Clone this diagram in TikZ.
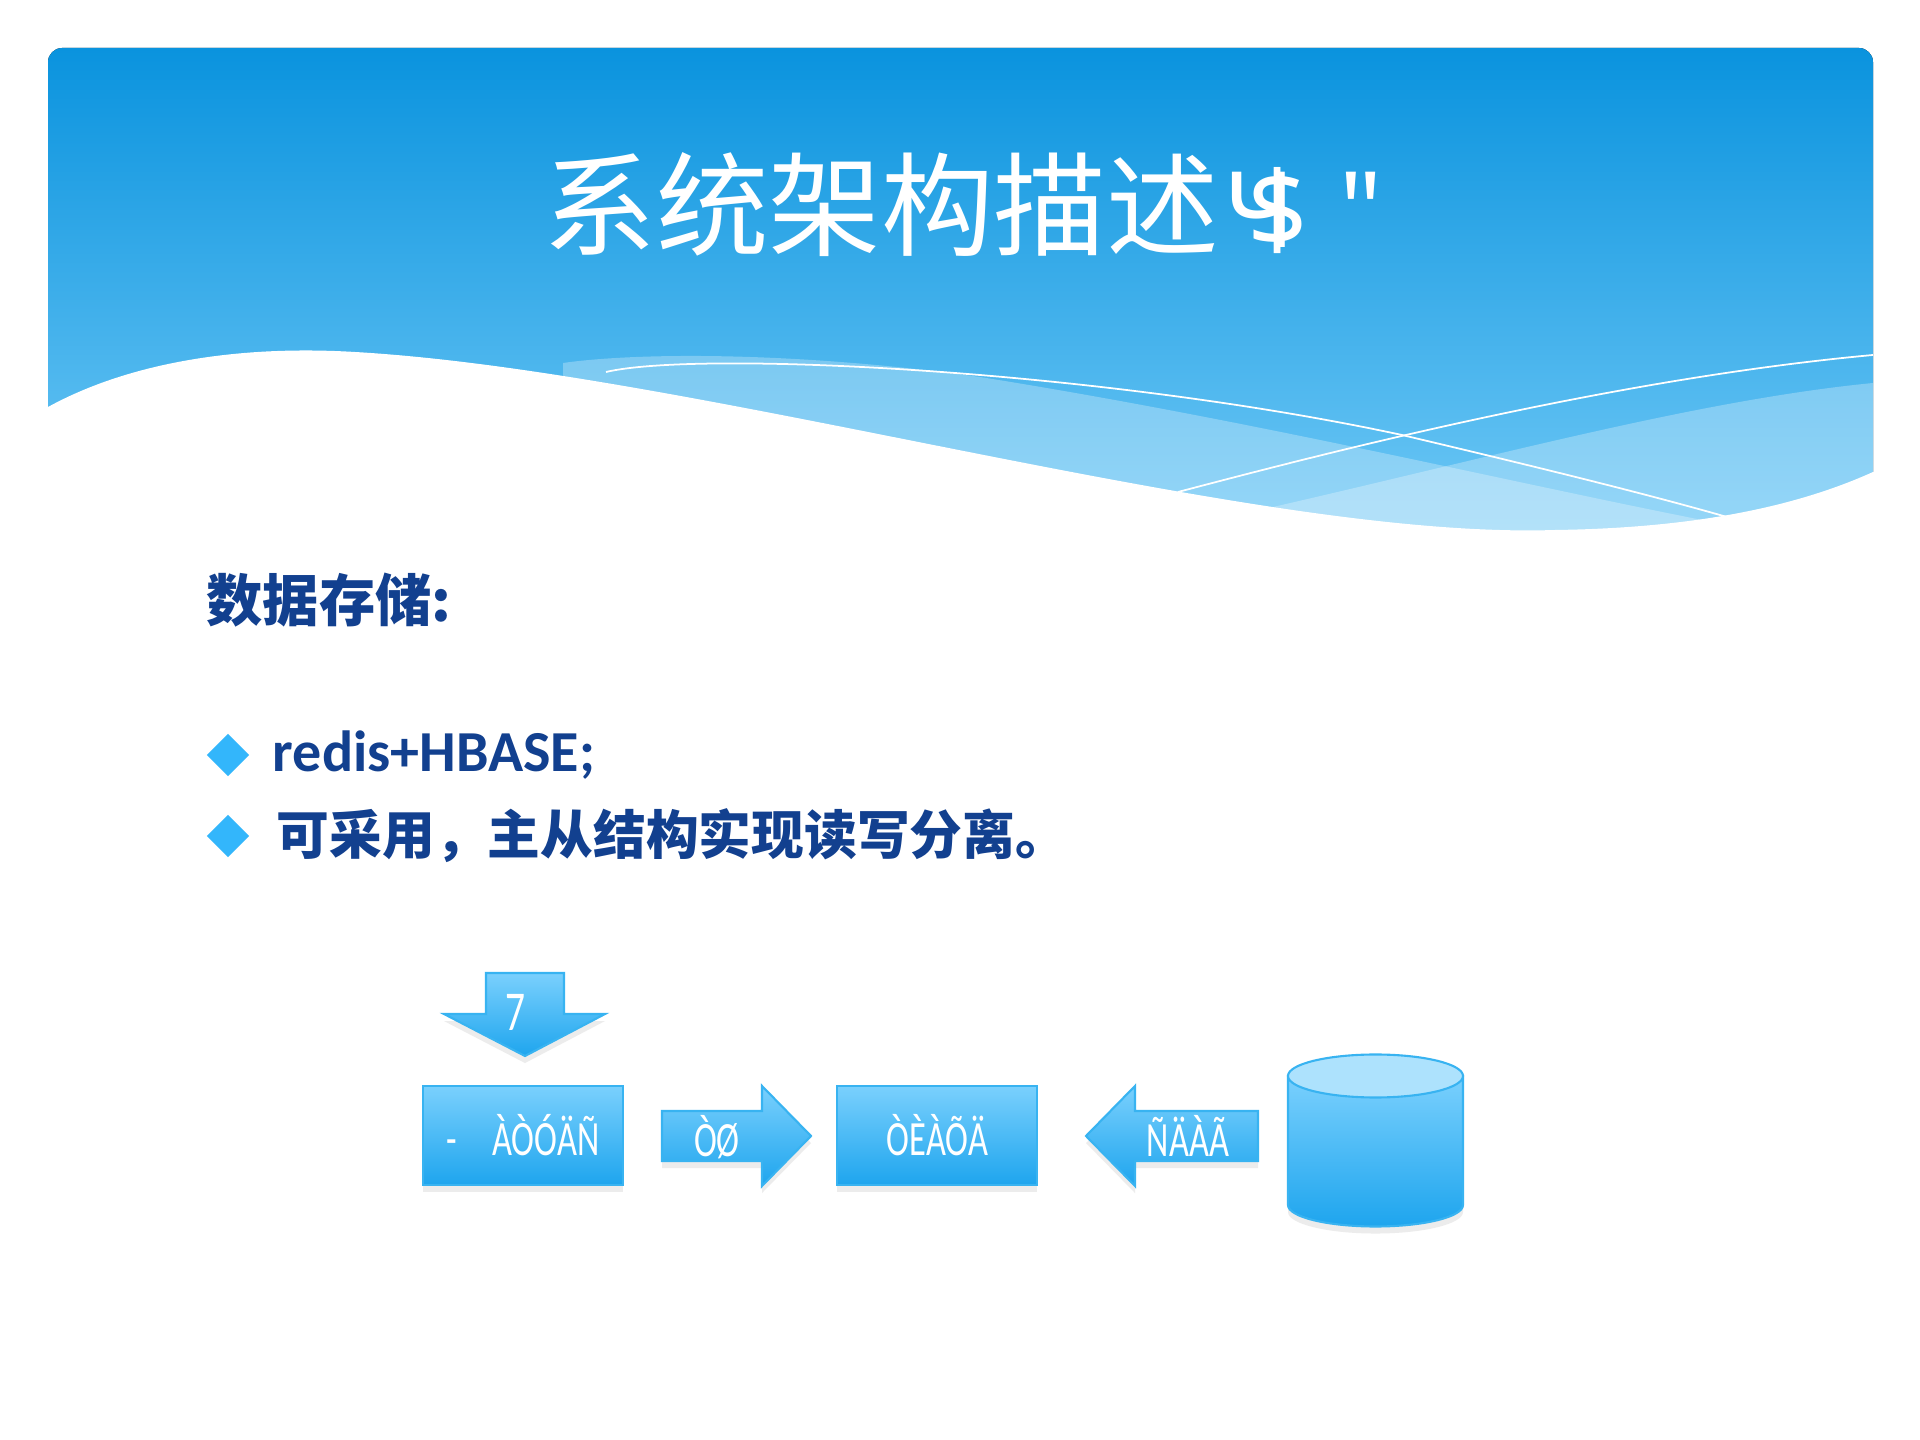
\documentclass[tikz,border=0pt]{standalone}
\usepackage{fontspec}
\usepackage{xcolor}
\usepackage{tikz}
\usetikzlibrary{positioning,shadows,shapes.geometric}

\newfontfamily\cjk{Noto Sans CJK SC}
\newfontfamily\latin{Carlito}
\newfontfamily\boxfont[FakeStretch=0.7]{Carlito}
\newfontfamily\notosans{Noto Sans}

\definecolor{hdtop}{HTML}{0A93DE}
\definecolor{hdbot}{HTML}{74CBF7}
\definecolor{navy}{HTML}{12408F}
\definecolor{bullet}{HTML}{33B6FB}
\definecolor{boxtop}{HTML}{7AD0FD}
\definecolor{boxbot}{HTML}{1EA5EE}
\definecolor{boxedge}{HTML}{38B3F1}
\definecolor{dbtop}{HTML}{ADE2FD}

\tikzset{
  boxshade/.style = {draw=boxedge, line width=0.6pt, top color=boxtop, bottom color=boxbot,
    drop shadow={opacity=0.15, shadow xshift=0pt, shadow yshift=-2pt}},
  flowbox/.style = {boxshade, minimum width=2cm, minimum height=0.99cm, inner sep=0pt,
    text=white, font=\boxfont\fontsize{14}{16}\selectfont},
  arrowlabel/.style = {inner sep=0pt, text=white, font=\boxfont\fontsize{14}{16}\selectfont},
  bulletmark/.style = {diamond, fill=bullet, minimum size=0.43cm, inner sep=0pt, aspect=1},
  bodytext/.style = {anchor=west, inner sep=0pt, text=navy},
}

\begin{document}
\begin{tikzpicture}[x=0.01cm, y=-0.01cm]
    \useasboundingbox (0,0) rectangle (1920,1440);
    \fill[white] (0,0) rectangle (1920,1440);
    % testata con onda
    \fill[top color=hdtop, bottom color=hdbot, rounded corners=4pt] (48,48) rectangle (1873,560);
    \fill[white, opacity=0.28] (563,363) .. controls (640,352) and (800,352) .. (980,377)
      .. controls (1250,420) and (1500,480) .. (1702,520) -- (1702,560) -- (563,560) -- cycle;
    \fill[white, opacity=0.28] (1273,507) .. controls (1500,455) and (1700,400) .. (1873,383)
      -- (1873,560) -- (1273,560) -- cycle;
    \draw[white, line width=0.5pt] (606,372) .. controls (700,350) and (1100,370) .. (1402,435)
      .. controls (1550,470) and (1650,495) .. (1727,517);
    \draw[white, line width=0.5pt] (1178,492) .. controls (1300,460) and (1600,380) .. (1873,355);
    \fill[white] (40,407) -- (48,407) .. controls (130,362) and (240,345) .. (355,352)
      .. controls (700,372) and (1250,540) .. (1555,530)
      .. controls (1700,528) and (1800,505) .. (1873,472) -- (1880,472) -- (1880,570) -- (40,570) -- cycle;

    \node[anchor=west, inner sep=0pt, text=white] (title) at (543,205)
      {{\cjk\fontsize{32}{36}\selectfont 系统架构描述}{\notosans\fontsize{30}{34}\selectfont\kern0.05em Ч\kern-0.45em\$\kern0.3em"}};

    % testo
    \node[bodytext, font=\cjk\bfseries\fontsize{16}{20}\selectfont] (head) at (206,600) {数据存储:};
    \node[bulletmark] (d1) at (228,755) {};
    \node[bodytext, font=\latin\bfseries\fontsize{16.5}{20}\selectfont, right=0.22cm of d1] (t1) {redis+HBASE;};
    \node[bulletmark] (d2) at (228,836) {};
    \node[bodytext, font=\cjk\bfseries\fontsize{15}{18}\selectfont, right=0.26cm of d2] (t2) {可采用，主从结构实现读写分离。};

    % schema
    \node[flowbox] (b1) at (523,1135.5) {-\hspace{10pt}ÀÒÓÄÑ};
    \node[flowbox, right=2.12cm of b1] (b2) {ÒÈÀÕÄ};
    \path[boxshade] (486,973) -- (564,973) -- (564,1014) -- (605,1014) -- (525,1056)
      -- (444,1014) -- (486,1014) -- cycle;                                   % freccia in basso
    \node[arrowlabel, font=\boxfont\fontsize{16}{18}\selectfont] (in) at (515,1012) {7};
    \path[boxshade] (662,1111) -- (762,1111) -- (762,1086) -- (811,1136) -- (762,1186)
      -- (762,1161) -- (662,1161) -- cycle;                                   % freccia a destra
    \node[arrowlabel] (ar) at (717,1137) {ÒØ};
    \path[boxshade] (1258,1111) -- (1135,1111) -- (1135,1086) -- (1086,1136) -- (1135,1186)
      -- (1135,1161) -- (1258,1161) -- cycle;                                 % freccia a sinistra
    \node[arrowlabel] (al) at (1188,1136) {ÑÄÀÃ};

    % cilindro
    \path[boxshade] (1288,1076) -- (1288,1205) arc[start angle=180, end angle=0, x radius=87.5, y radius=21.5]
      -- (1463,1076) -- cycle;
    \path[draw=boxedge, line width=0.6pt, fill=dbtop] (1375.5,1076) ellipse [x radius=87.5, y radius=21.5];
    \coordinate (db) at (1375.5,1140);
\end{tikzpicture}
\end{document}
